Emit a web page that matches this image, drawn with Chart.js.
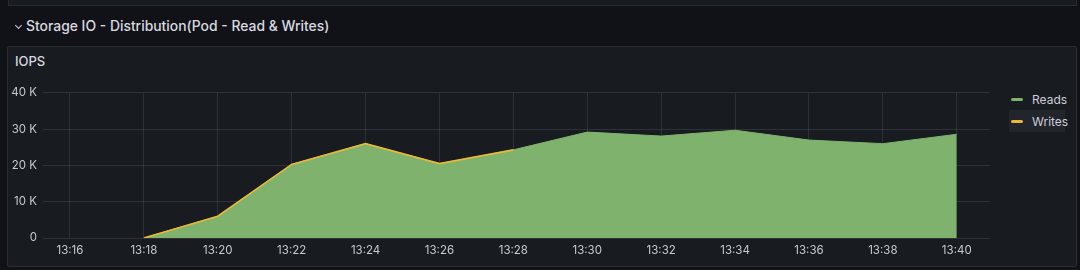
<!DOCTYPE html>
<html>
<head>
<meta charset="utf-8">
<script src="https://cdn.jsdelivr.net/npm/chart.js@4"></script>
<style>
  body { margin: 0; width: 1080px; height: 270px; background: #111217; overflow: hidden;
         font-family: Inter, "Noto Sans", sans-serif; color: #ccccdc; position: relative; }
  .toppanel { position: absolute; left: 8px; top: -4px; width: 1069px; height: 10px;
              background: #181b1f; border: 1px solid #2a2c31; box-sizing: border-box; }
  .rowtitle { position: absolute; left: 14px; top: 18px; font-size: 13.9px; font-weight: 500; color: #d8d9e0; }
  .chev { display: inline-block; width: 4px; height: 4px; border-right: 1.5px solid #ccccdc;
          border-bottom: 1.5px solid #ccccdc; transform: rotate(45deg); margin: 0 5px 3px 2px; }
  .panel { position: absolute; left: 7px; top: 46px; width: 1070px; height: 221px;
           background: #181b1f; border: 1px solid #2a2c31; box-sizing: border-box; border-radius: 2px; }
  .ptitle { position: absolute; left: 15px; top: 53px; font-size: 13px; font-weight: 500; color: #d8d9e0; }
  #wrap { position: absolute; left: 0; top: 80px; width: 1000px; height: 180px; }
  .legend { position: absolute; left: 1009px; top: 88px; font-size: 12px; color: #ccccdc; }
  .item { height: 22px; width: 56px; display: flex; align-items: center; padding-left: 2px; box-sizing: border-box; }
  .item.hl { background: #22252b; }
  .sw { flex: 0 0 12px; width: 12px; height: 3px; border-radius: 2px; margin-right: 9px; }
</style>
</head>
<body>
<div class="toppanel"></div>
<div class="rowtitle"><span class="chev"></span>Storage IO - Distribution(Pod - Read &amp; Writes)</div>
<div class="panel"></div>
<div class="ptitle">IOPS</div>
<div id="wrap"><canvas id="c" width="1000" height="180"></canvas></div>
<div class="legend" id="legend"></div>
<script>
// minutes after 13:00
const times = [18, 20, 22, 24, 26, 28, 30, 32, 34, 36, 38, 40];
const reads = [0, 6000, 20300, 26000, 20500, 24300, 29200, 28100, 29700, 27000, 26000, 28600];
const writes = [0, 6000, 20300, 26000, 20500, 24300];
const xTicks = [16, 18, 20, 22, 24, 26, 28, 30, 32, 34, 36, 38, 40];
const yTicks = [0, 10000, 20000, 30000, 40000];
const seriesNames = ['Reads', 'Writes'];
const colors = ['#7eb26d', '#eab839'];

const pts = (vals) => vals.map((v, i) => ({ x: times[i], y: v }));
const tickColor = '#c7c9d3';
const gridColor = 'rgba(204,204,220,0.13)';

new Chart(document.getElementById('c'), {
  type: 'line',
  data: {
    datasets: [
      { label: seriesNames[0], data: pts(reads), borderColor: colors[0], backgroundColor: colors[0],
        borderWidth: 1, fill: 'origin', pointRadius: 0, tension: 0, order: 2 },
      { label: seriesNames[1], data: pts(writes), borderColor: colors[1], backgroundColor: colors[1],
        borderWidth: 1.6, fill: false, pointRadius: 0, tension: 0, order: 1 }
    ]
  },
  options: {
    responsive: false,
    animation: false,
    layout: { padding: { top: 10, right: 10, left: 0, bottom: 0 } },
    plugins: { legend: { display: false }, tooltip: { enabled: false } },
    scales: {
      x: {
        type: 'linear',
        min: 15.27, max: 40.9,
        afterBuildTicks: s => { s.ticks = xTicks.map(v => ({ value: v })); },
        afterFit: s => { s.height = 22; },
        grid: { color: gridColor, drawTicks: false },
        border: { display: false },
        ticks: { color: tickColor, padding: 6, maxRotation: 0, autoSkip: false,
                 font: { family: 'Inter', size: 11.5 },
                 callback: v => '13:' + String(v).padStart(2, '0') }
      },
      y: {
        min: 0, max: 40000,
        afterBuildTicks: s => { s.ticks = yTicks.map(v => ({ value: v })); },
        afterFit: s => { s.width = 43; },
        grid: { color: gridColor, drawTicks: false },
        border: { display: false },
        ticks: { color: tickColor, padding: 6, font: { family: 'Inter', size: 11.5 },
                 callback: v => v === 0 ? '0' : (v / 1000) + ' K' }
      }
    }
  }
});

const lg = document.getElementById('legend');
seriesNames.forEach((n, i) => {
  const d = document.createElement('div');
  d.className = 'item' + (i === 1 ? ' hl' : '');
  d.innerHTML = '<span class="sw" style="background:' + colors[i] + '"></span>' + n;
  lg.appendChild(d);
});
</script>
</body>
</html>
